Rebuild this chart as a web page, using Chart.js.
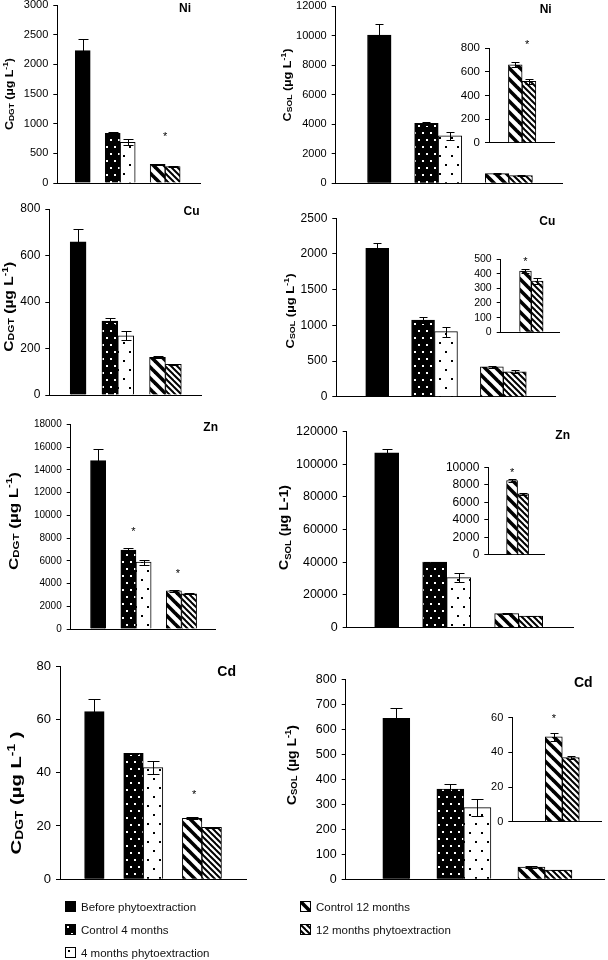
<!DOCTYPE html>
<html>
<head>
<meta charset="utf-8">
<script src="https://cdn.jsdelivr.net/npm/chart.js@4.4.1/dist/chart.umd.min.js"></script>
<style>
  html, body { margin: 0; padding: 0; background: #fff; }
  #page { position: relative; width: 608px; height: 960px; overflow: hidden; background: #fff; }
  .legend { position: absolute; font: 11.5px "Liberation Sans", Arial, sans-serif; color: #111; }
  .legend div { height: 23px; display: flex; align-items: center; }
  .legend canvas { margin-right: 5px; }
</style>
</head>
<body>
<div id="page"></div>
<script>
// series and their group (before / 4 months / 12 months)
const seriesNames = ['Before phytoextraction', 'Control 4 months', '4 months phytoextraction', 'Control 12 months', '12 months phytoextraction'];
const seriesGroup = [0, 1, 1, 2, 2];

// C DGT (µg L-1): means, error bars, significance marks [slot, value]
const niDgt = [2230, 837, 686, 315, 275];
const niDgtErr = [190, 25, 50, 8, 5];
const niDgtStars = [[5.5, 840]];
const cuDgt = [659, 318, 255, 162, 132];
const cuDgtErr = [54, 12, 20, 4, 2];
const cuDgtStars = [];
const znDgt = [14800, 6950, 5880, 3350, 3090];
const znDgtErr = [1020, 150, 230, 60, 40];
const znDgtStars = [[2.33, 8790], [5.27, 5150]];
const cdDgt = [62.9, 47.2, 41.9, 22.9, 19.5];
const cdDgtErr = [4.8, 0.3, 2.5, 0.4, 0.2];
const cdDgtStars = [[5.1, 32.9]];

// C SOL (µg L-1), the insets zoom on the two 12 month series
const niSol = [10040, 4060, 3220, 660, 520];
const niSolErr = [745, 110, 270, 20, 23];
const niInsetStars = [[0.86, 857]];
const cuSol = [2080, 1075, 911, 418, 350];
const cuSolErr = [80, 46, 70, 14, 18];
const cuInsetStars = [[0, 505]];
const znSol = [107100, 40060, 30540, 8470, 6960];
const znSolErr = [2600, 300, 2800, 190, 150];
const znInsetStars = [[0, 9770]];
const cdSol = [644, 361, 287, 49, 37];
const cdSolErr = [42, 19, 33, 2.3, 1];
const cdInsetStars = [[0, 61.5]];

// y axes: [max, step]
const niDgtAxis = [3000, 500], cuDgtAxis = [800, 200], znDgtAxis = [18000, 2000], cdDgtAxis = [80, 20];
const niSolAxis = [12000, 2000], cuSolAxis = [2500, 500], znSolAxis = [120000, 20000], cdSolAxis = [800, 100];
const niInsetAxis = [800, 200], cuInsetAxis = [500, 100], znInsetAxis = [10000, 2000], cdInsetAxis = [60, 20];

// axis titles: [text, 0 normal / 1 subscript / 2 superscript]
const dgtTitle = [['C', 0], ['DGT', 1], [' (µg L', 0], ['-1', 2], [')', 0]];
const dgtTitleCd = [['C', 0], ['DGT', 1], [' (µg L', 0], ['-1', 2], [' )', 0]];
const solTitle = [['C', 0], ['SOL', 1], [' (µg L', 0], ['-1', 2], [')', 0]];
const solTitleZn = [['C', 0], ['SOL', 1], [' (µg L-1)', 0]];

const FONT = '"Liberation Sans", Arial, sans-serif';
Chart.defaults.font.family = FONT;
Chart.defaults.color = '#000';

const page = document.getElementById('page');

// hatch / dot fills
function tile(w, h, draw) {
  const c = document.createElement('canvas');
  c.width = w; c.height = h;
  const g = c.getContext('2d');
  draw(g);
  return g.createPattern(c, 'repeat');
}
function stripes(s, lw) {
  return tile(s, s, g => {
    g.fillStyle = '#fff'; g.fillRect(0, 0, s, s);
    g.strokeStyle = '#000'; g.lineWidth = lw;
    for (let k = -1; k <= 1; k++) {
      g.beginPath(); g.moveTo(k * s - s, -s); g.lineTo(k * s + 2 * s, 2 * s); g.stroke();
    }
  });
}
const fills = [
  '#000',
  tile(8, 14, g => { g.fillStyle = '#000'; g.fillRect(0, 0, 8, 14); g.fillStyle = '#fff'; g.fillRect(2, 2, 2, 2); g.fillRect(6, 9, 2, 2); }),
  tile(12, 18, g => { g.fillStyle = '#fff'; g.fillRect(0, 0, 12, 18); g.fillStyle = '#000'; g.fillRect(3, 3, 2, 2); g.fillRect(9, 12, 2, 2); }),
  stripes(11, 3.6),
  stripes(6, 2)
];

function drawTitle(ctx, t, bx, by) {
  const fontFor = k => 'bold ' + (k ? t.size * 0.68 : t.size) + 'px ' + FONT;
  ctx.save();
  ctx.translate(t.x - bx, t.y - by);
  ctx.rotate(-Math.PI / 2);
  let total = 0;
  const ws = t.parts.map(([s, k]) => { ctx.font = fontFor(k); const w = ctx.measureText(s).width; total += w; return w; });
  ctx.scale(t.len / total, 1);
  ctx.fillStyle = '#000';
  ctx.textAlign = 'left';
  ctx.textBaseline = 'alphabetic';
  let x = -total / 2;
  const base = t.size * 0.36;
  t.parts.forEach(([s, k], i) => {
    ctx.font = fontFor(k);
    const dy = k === 1 ? t.size * (t.drop || 0.08) : k === 2 ? -t.size * 0.42 : 0;
    ctx.fillText(s, x, base + dy);
    x += ws[i];
  });
  ctx.restore();
}

// error bars, stars, panel name, axis title
function decor(p) {
  return {
    id: 'decor',
    afterDatasetsDraw(chart) {
      const ctx = chart.ctx;
      const xs = chart.scales.x, ys = chart.scales.y;
      const meta = chart.getDatasetMeta(0);
      ctx.save();
      ctx.strokeStyle = '#000';
      ctx.lineWidth = 1;
      p.values.forEach((v, i) => {
        const e = p.errors[i];
        if (!e) return;
        const x = Math.round(meta.data[i].x) + 0.5;
        const y1 = Math.round(ys.getPixelForValue(v + e)) + 0.5;
        const y2 = Math.round(ys.getPixelForValue(Math.max(v - e, 0))) + 0.5;
        ctx.beginPath();
        ctx.moveTo(x, y1); ctx.lineTo(x, y2);
        ctx.moveTo(x - p.cap, y1); ctx.lineTo(x + p.cap, y1);
        ctx.moveTo(x - p.cap, y2); ctx.lineTo(x + p.cap, y2);
        ctx.stroke();
      });
      ctx.fillStyle = '#000';
      ctx.font = '11px ' + FONT;
      ctx.textAlign = 'center';
      ctx.textBaseline = 'alphabetic';
      p.stars.forEach(([sx, sy]) => ctx.fillText('*', xs.getPixelForValue(sx), ys.getPixelForValue(sy) + 6.4));
      const [bx, by] = p.box;
      if (p.label) {
        ctx.font = 'bold ' + p.label.size + 'px ' + FONT;
        ctx.textBaseline = 'middle';
        ctx.fillText(p.label.text, p.label.x - bx, p.label.y - by);
      }
      if (p.yTitle) drawTitle(ctx, p.yTitle, bx, by);
      ctx.restore();
    }
  };
}

function panel(p) {
  const [bx, by, bw, bh] = p.box;
  const a = p.area;
  const cv = document.createElement('canvas');
  cv.width = bw; cv.height = bh;
  cv.style.cssText = 'position:absolute;left:' + bx + 'px;top:' + by + 'px;width:' + bw + 'px;height:' + bh + 'px';
  page.appendChild(cv);
  new Chart(cv, {
    type: 'bar',
    data: {
      datasets: [{
        data: p.values.map((v, i) => ({ x: p.slots[i], y: v })),
        backgroundColor: p.fills,
        borderColor: '#000',
        borderWidth: 1,
        borderSkipped: 'bottom',
        barPercentage: 1,
        categoryPercentage: 1
      }]
    },
    options: {
      responsive: false,
      animation: false,
      devicePixelRatio: 1,
      layout: { padding: { left: 0, top: a.t - by, right: bx + bw - a.r, bottom: by + bh - a.b } },
      plugins: { legend: { display: false }, tooltip: { enabled: false } },
      scales: {
        x: {
          type: 'linear',
          min: (a.l - p.x0) / p.w,
          max: (a.r - p.x0) / p.w,
          grid: { display: false, drawTicks: false },
          border: { display: true, color: '#000', width: 1 },
          ticks: { display: false, stepSize: 1, includeBounds: false },
          afterFit: s => { s.height = 0; }
        },
        y: {
          min: 0,
          max: p.axis[0],
          grid: { drawOnChartArea: false, drawTicks: true, tickLength: 4, color: '#000' },
          border: { display: true, color: '#000', width: 1 },
          ticks: { stepSize: p.axis[1], autoSkip: false, font: { size: p.tickSize }, color: '#000', padding: 5, callback: v => String(v) },
          afterFit: s => { s.width = a.l - bx; }
        }
      }
    },
    plugins: [decor(p)]
  });
}

const mainSlots = seriesGroup.map((g, i) => i + g);

function mainPanel(o) {
  panel(Object.assign({ slots: mainSlots, fills: fills }, o));
}
function insetPanel(o, values, errors) {
  const a = o.area;
  const left = Math.floor(a.l - 48), top = Math.floor(a.t - 26);
  panel(Object.assign({
    slots: [0, 1],
    fills: fills.slice(3),
    values: values.slice(3),
    errors: errors.slice(3),
    box: [left, top, Math.ceil(a.r + 5) - left, Math.ceil(a.b + 12) - top],
    cap: 4
  }, o));
}

// left column: C DGT
mainPanel({ box: [0, -10, 268, 210], area: { l: 57.3, r: 200, t: 5, b: 183 }, x0: 77, w: 16.86,
  values: niDgt, errors: niDgtErr, stars: niDgtStars, axis: niDgtAxis, tickSize: 11, cap: 5,
  label: { text: 'Ni', x: 185, y: 8.5, size: 12 }, yTitle: { parts: dgtTitle, x: 9, y: 94, size: 11, len: 72 } });
mainPanel({ box: [0, 195, 268, 215], area: { l: 49.3, r: 201.7, t: 209, b: 395 }, x0: 72.2, w: 17.86,
  values: cuDgt, errors: cuDgtErr, stars: cuDgtStars, axis: cuDgtAxis, tickSize: 12, cap: 5,
  label: { text: 'Cu', x: 191.5, y: 211.7, size: 12 }, yTitle: { parts: dgtTitle, x: 9, y: 306.7, size: 12, len: 90 } });
mainPanel({ box: [0, 405, 268, 235], area: { l: 70.7, r: 215, t: 424.3, b: 630.7 }, x0: 92.5, w: 17.05,
  values: znDgt, errors: znDgtErr, stars: znDgtStars, axis: znDgtAxis, tickSize: 10, cap: 5,
  label: { text: 'Zn', x: 210.7, y: 427.3, size: 12 }, yTitle: { parts: dgtTitle, x: 13, y: 521, size: 12.5, len: 98 } });
mainPanel({ box: [0, 640, 268, 255], area: { l: 60, r: 246.7, t: 666, b: 879.3 }, x0: 87, w: 22,
  values: cdDgt, errors: cdDgtErr, stars: cdDgtStars, axis: cdDgtAxis, tickSize: 13, cap: 6,
  label: { text: 'Cd', x: 226.7, y: 671.7, size: 14 }, yTitle: { parts: dgtTitleCd, x: 16, y: 793, size: 15, len: 123 } });

// right column: C SOL with insets
mainPanel({ box: [268, -10, 340, 210], area: { l: 335.7, r: 562.3, t: 6, b: 183.3 }, x0: 370.6, w: 26.5,
  values: niSol, errors: niSolErr, stars: [], axis: niSolAxis, tickSize: 11, cap: 4,
  label: { text: 'Ni', x: 545.7, y: 9.3, size: 12 }, yTitle: { parts: solTitle, x: 287, y: 85, size: 11, len: 73 } });
insetPanel({ area: { l: 489, r: 554, t: 48.3, b: 142.7 }, x0: 513.2, w: 18.3, stars: niInsetStars, axis: niInsetAxis, tickSize: 11.5 }, niSol, niSolErr);

mainPanel({ box: [268, 195, 340, 215], area: { l: 336.3, r: 555.7, t: 218.3, b: 396.7 }, x0: 368.6, w: 25.8,
  values: cuSol, errors: cuSolErr, stars: [], axis: cuSolAxis, tickSize: 12, cap: 4,
  label: { text: 'Cu', x: 547.3, y: 221.7, size: 12 }, yTitle: { parts: solTitle, x: 290, y: 311, size: 11, len: 75 } });
insetPanel({ area: { l: 500.7, r: 559, t: 259, b: 332.3 }, x0: 524, w: 15.7, stars: cuInsetStars, axis: cuInsetAxis, tickSize: 10.5 }, cuSol, cuSolErr);

mainPanel({ box: [268, 405, 340, 235], area: { l: 346.7, r: 573.3, t: 431.7, b: 633.3 }, x0: 377.5, w: 27,
  values: znSol, errors: znSolErr, stars: [], axis: znSolAxis, tickSize: 12.5, cap: 5,
  label: { text: 'Zn', x: 562.7, y: 436, size: 12 }, yTitle: { parts: solTitleZn, x: 284, y: 527.5, size: 12, len: 85, drop: 0.25 } });
insetPanel({ area: { l: 488.3, r: 544, t: 467.3, b: 555 }, x0: 510.7, w: 14.7, stars: znInsetStars, axis: znInsetAxis, tickSize: 12 }, znSol, znSolErr);

mainPanel({ box: [268, 640, 340, 255], area: { l: 345.7, r: 604, t: 679.3, b: 879.3 }, x0: 386.5, w: 30.4,
  values: cdSol, errors: cdSolErr, stars: [], axis: cdSolAxis, tickSize: 12.5, cap: 6,
  label: { text: 'Cd', x: 583.3, y: 683.3, size: 14 }, yTitle: { parts: solTitle, x: 292, y: 765, size: 12, len: 80 } });
insetPanel({ area: { l: 512.3, r: 601.7, t: 717.7, b: 821.7 }, x0: 552.7, w: 22.7, stars: cdInsetStars, axis: cdInsetAxis, tickSize: 11 }, cdSol, cdSolErr);

// legend
function legend(x, y, idx) {
  const box = document.createElement('div');
  box.className = 'legend';
  box.style.left = x + 'px';
  box.style.top = y + 'px';
  idx.forEach(i => {
    const row = document.createElement('div');
    const sw = document.createElement('canvas');
    sw.width = 11; sw.height = 11;
    const g = sw.getContext('2d');
    g.fillStyle = fills[i]; g.fillRect(0, 0, 11, 11);
    g.strokeStyle = '#000'; g.strokeRect(0.5, 0.5, 10, 10);
    const sp = document.createElement('span');
    sp.textContent = seriesNames[i];
    row.appendChild(sw);
    row.appendChild(sp);
    box.appendChild(row);
  });
  page.appendChild(box);
}
legend(65, 895, [0, 1, 2]);
legend(300, 895, [3, 4]);
</script>
</body>
</html>
